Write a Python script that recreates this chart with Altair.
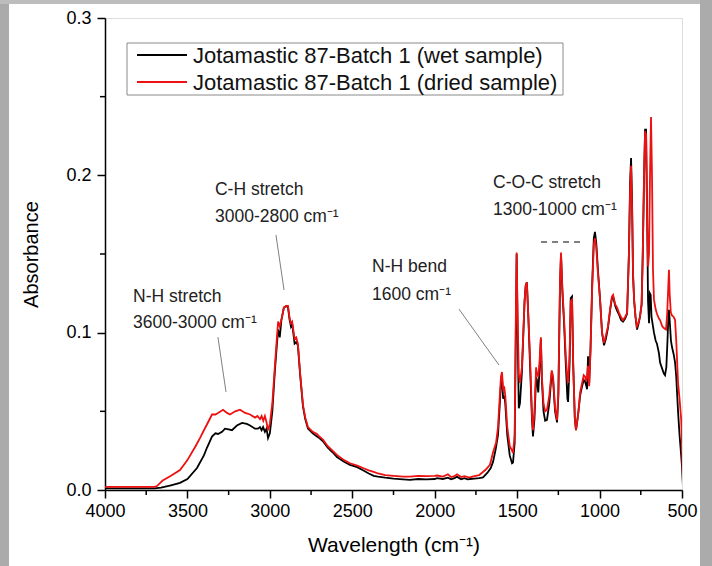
import altair as alt
import pandas as pd

# ---------------- data ----------------
WET_LABEL = "Jotamastic 87-Batch 1 (wet sample)"
DRY_LABEL = "Jotamastic 87-Batch 1 (dried sample)"
series_labels = [WET_LABEL, DRY_LABEL]
series_colors = ["#000000", "#ee1111"]

wn_wet = [4000, 3800, 3700, 3660, 3600, 3545, 3500, 3442, 3400, 3381, 3351, 3330, 3314, 3290,
          3272, 3250, 3230, 3200, 3169, 3140, 3120, 3090, 3072, 3060, 3050, 3041, 3030, 3020,
          3011, 3000, 2985, 2970, 2957, 2950, 2940, 2930, 2915, 2900, 2890, 2880, 2872, 2865,
          2858, 2850, 2840, 2830, 2817, 2799, 2785, 2769, 2740, 2714, 2700, 2678, 2650, 2620,
          2593, 2550, 2514, 2470, 2435, 2400, 2370, 2344, 2300, 2250, 2192, 2150, 2100, 2050,
          2000, 1986, 1950, 1920, 1900, 1880, 1865, 1840, 1820, 1800, 1786, 1760, 1730, 1707,
          1680, 1660, 1646, 1630, 1616, 1605, 1598, 1592, 1585, 1578, 1572, 1560, 1545, 1531,
          1525, 1515, 1508, 1503, 1497, 1490, 1483, 1471, 1455, 1448, 1441, 1432, 1422, 1410,
          1404, 1395, 1385, 1380, 1372, 1365, 1356, 1350, 1340, 1330, 1319, 1305, 1290, 1282,
          1270, 1258, 1250, 1240, 1234, 1225, 1215, 1205, 1195, 1191, 1182, 1175, 1167, 1160,
          1150, 1143, 1130, 1118, 1106, 1096, 1088, 1080, 1076, 1070, 1063, 1055, 1045, 1035,
          1028, 1020, 1010, 997, 985, 973, 962, 949, 935, 925, 918, 905, 894, 880, 870, 858,
          845, 833, 822, 815, 809, 803, 797, 790, 782, 773, 765, 755, 745, 738, 730, 724, 718,
          712, 706, 700, 695, 690, 685, 670, 660, 652, 640, 633, 620, 610, 603, 595, 588, 582,
          579, 573, 567, 561, 550, 542, 535, 524, 515, 505, 500, 494]
abs_wet = [0.001, 0.001, 0.001, 0.0015, 0.003, 0.0045, 0.007, 0.014, 0.022, 0.027, 0.034, 0.036,
           0.0356, 0.037, 0.039, 0.0385, 0.038, 0.041, 0.0426, 0.042, 0.041, 0.039, 0.039, 0.040,
           0.038, 0.040, 0.037, 0.039, 0.033, 0.036, 0.050, 0.075, 0.093, 0.102, 0.097, 0.108,
           0.116, 0.117, 0.116, 0.108, 0.104, 0.106, 0.100, 0.093, 0.094, 0.092, 0.074, 0.053,
           0.045, 0.039, 0.036, 0.034, 0.033, 0.031, 0.027, 0.024, 0.021, 0.018, 0.016, 0.0145,
           0.0125, 0.0105, 0.009, 0.0085, 0.0078, 0.0072, 0.0068, 0.0065, 0.007, 0.0068, 0.007,
           0.0075, 0.007, 0.0078, 0.0068, 0.0075, 0.0085, 0.0068, 0.0075, 0.0068, 0.007, 0.0072,
           0.0075, 0.008, 0.011, 0.014, 0.018, 0.026, 0.035, 0.055, 0.068, 0.072, 0.058, 0.060,
           0.055, 0.035, 0.022, 0.017, 0.0175, 0.030, 0.100, 0.150, 0.100, 0.052, 0.055, 0.075,
           0.120, 0.130, 0.132, 0.110, 0.080, 0.045, 0.034, 0.045, 0.072, 0.070, 0.062, 0.075,
           0.096, 0.070, 0.050, 0.044, 0.0445, 0.055, 0.075, 0.070, 0.050, 0.043, 0.060, 0.130,
           0.150, 0.125, 0.105, 0.080, 0.058, 0.056, 0.080, 0.122, 0.123, 0.080, 0.045, 0.038,
           0.048, 0.060, 0.066, 0.070, 0.069, 0.066, 0.064, 0.085, 0.068, 0.090, 0.130, 0.160,
           0.164, 0.157, 0.140, 0.121, 0.100, 0.092, 0.096, 0.103, 0.115, 0.122, 0.123, 0.117,
           0.114, 0.111, 0.108, 0.107, 0.109, 0.112, 0.150, 0.195, 0.211, 0.185, 0.136, 0.120,
           0.110, 0.102, 0.105, 0.110, 0.118, 0.150, 0.200, 0.229, 0.229, 0.180, 0.120, 0.106,
           0.125, 0.124, 0.110, 0.100, 0.095, 0.093, 0.087, 0.081, 0.077, 0.074, 0.073, 0.078,
           0.095, 0.112, 0.1145, 0.105, 0.095, 0.091, 0.086, 0.081, 0.072, 0.050, 0.035, 0.022,
           0.015, 0.002]

wn_dry = [4000, 3800, 3700, 3685, 3650, 3600, 3545, 3500, 3450, 3424, 3400, 3370, 3351, 3330,
          3314, 3284, 3260, 3242, 3210, 3181, 3150, 3120, 3090, 3075, 3060, 3050, 3040, 3030,
          3020, 3011, 3000, 2985, 2970, 2957, 2950, 2940, 2926, 2915, 2900, 2890, 2880, 2872,
          2865, 2858, 2850, 2840, 2830, 2817, 2799, 2785, 2769, 2740, 2714, 2700, 2678, 2650,
          2620, 2593, 2550, 2514, 2470, 2435, 2400, 2370, 2344, 2300, 2250, 2192, 2150, 2100,
          2050, 2000, 1986, 1950, 1920, 1900, 1880, 1865, 1840, 1820, 1800, 1786, 1760, 1730,
          1713, 1690, 1665, 1646, 1628, 1616, 1605, 1598, 1592, 1585, 1578, 1572, 1560, 1545,
          1531, 1525, 1515, 1508, 1503, 1497, 1490, 1483, 1471, 1455, 1448, 1441, 1432, 1422,
          1410, 1404, 1395, 1385, 1380, 1372, 1365, 1356, 1350, 1340, 1330, 1319, 1305, 1290,
          1282, 1270, 1258, 1250, 1240, 1234, 1225, 1215, 1205, 1195, 1191, 1182, 1175, 1167,
          1160, 1150, 1143, 1130, 1118, 1106, 1096, 1088, 1080, 1076, 1070, 1063, 1055, 1045,
          1035, 1028, 1020, 1010, 997, 985, 973, 962, 949, 935, 925, 918, 905, 894, 880, 870,
          858, 845, 833, 822, 815, 809, 803, 797, 790, 782, 773, 765, 755, 745, 738, 730, 724,
          718, 712, 706, 700, 694, 688, 682, 676, 670, 660, 652, 640, 633, 620, 610, 597, 590,
          583, 579, 575, 568, 561, 550, 542, 535, 524, 515, 505, 500, 494]
abs_dry = [0.002, 0.002, 0.002, 0.0025, 0.006, 0.009, 0.0127, 0.019, 0.028, 0.033, 0.038, 0.044,
           0.048, 0.048, 0.049, 0.051, 0.049, 0.048, 0.050, 0.051, 0.049, 0.048, 0.046, 0.047,
           0.045, 0.047, 0.044, 0.047, 0.043, 0.038, 0.042, 0.055, 0.078, 0.097, 0.107, 0.104,
           0.110, 0.116, 0.117, 0.117, 0.109, 0.106, 0.107, 0.102, 0.096, 0.097, 0.093, 0.075,
           0.054, 0.046, 0.040, 0.037, 0.0356, 0.034, 0.032, 0.028, 0.025, 0.0223, 0.019, 0.017,
           0.0155, 0.014, 0.0125, 0.0115, 0.0105, 0.0095, 0.009, 0.0085, 0.0085, 0.009, 0.0088,
           0.009, 0.0092, 0.0085, 0.010, 0.0082, 0.0088, 0.010, 0.0082, 0.0088, 0.0082, 0.008,
           0.0088, 0.0095, 0.011, 0.013, 0.016, 0.024, 0.030, 0.040, 0.060, 0.072, 0.075, 0.064,
           0.065, 0.060, 0.040, 0.028, 0.025, 0.0235, 0.035, 0.110, 0.151, 0.110, 0.074, 0.068,
           0.078, 0.120, 0.130, 0.132, 0.110, 0.085, 0.048, 0.038, 0.050, 0.078, 0.074, 0.072,
           0.080, 0.097, 0.072, 0.055, 0.050, 0.051, 0.060, 0.076, 0.072, 0.052, 0.0445, 0.062,
           0.132, 0.151, 0.127, 0.108, 0.085, 0.070, 0.068, 0.085, 0.120, 0.121, 0.080, 0.045,
           0.038, 0.048, 0.062, 0.068, 0.073, 0.072, 0.069, 0.072, 0.079, 0.066, 0.088, 0.128,
           0.156, 0.160, 0.154, 0.138, 0.121, 0.100, 0.0935, 0.098, 0.104, 0.116, 0.123, 0.124,
           0.118, 0.116, 0.112, 0.110, 0.108, 0.110, 0.1125, 0.150, 0.190, 0.206, 0.180, 0.138,
           0.120, 0.110, 0.104, 0.106, 0.110, 0.118, 0.150, 0.200, 0.228, 0.226, 0.175, 0.142,
           0.150, 0.200, 0.237, 0.200, 0.140, 0.121, 0.115, 0.112, 0.109, 0.108, 0.104, 0.103,
           0.102, 0.112, 0.130, 0.140, 0.125, 0.113, 0.111, 0.110, 0.108, 0.095, 0.068, 0.058,
           0.045, 0.030, 0.002]

x_major = [4000, 3500, 3000, 2500, 2000, 1500, 1000, 500]
x_minor = [3750, 3250, 2750, 2250, 1750, 1250, 750]
y_major = [0.0, 0.1, 0.2, 0.3]
y_minor = [0.05, 0.15, 0.25]

ann_wn = [3830, 3830, 3333, 3333, 2380, 2380, 1646, 1646]
ann_abs = [0.1227, 0.1061, 0.1907, 0.1735, 0.1417, 0.1239, 0.1951, 0.1780]
ann_text = ["N-H stretch", "3600-3000 cm⁻¹", "C-H stretch", "3000-2800 cm⁻¹",
            "N-H bend", "1600 cm⁻¹", "C-O-C stretch", "1300-1000 cm⁻¹"]

lead_wn = [3315, 2963, 1853]
lead_abs = [0.0972, 0.1621, 0.1150]
lead_wn2 = [3266, 2914, 1610]
lead_abs2 = [0.0623, 0.1271, 0.0794]

dash_wn, dash_wn2, dash_abs = [1355], [1119], [0.1576]

# ---------------- frames ----------------
spec = pd.concat([
    pd.DataFrame({"wn": wn_wet, "v": abs_wet, "series": WET_LABEL}),
    pd.DataFrame({"wn": wn_dry, "v": abs_dry, "series": DRY_LABEL}),
])
ann = pd.DataFrame({"wn": ann_wn, "v": ann_abs, "t": ann_text})
lead = pd.DataFrame({"wn": lead_wn, "v": lead_abs, "wn2": lead_wn2, "v2": lead_abs2})
dash = pd.DataFrame({"wn": dash_wn, "v": dash_abs, "wn2": dash_wn2, "v2": dash_abs})

FONT = "Liberation Sans"
W, H = 577, 472

x_axis = alt.Axis(
    orient="bottom", values=x_major, format="d", ticks=True, tickSize=8,
    tickColor="black", tickWidth=1.5,
    labelFontSize=18, labelFont=FONT, labelColor="black", labelPadding=4, labelFlush=False,
    title="Wavelength (cm⁻¹)", titleFont=FONT, titleFontSize=21, titleFontWeight="normal",
    titleColor="black", titlePadding=14,
    domainColor="black", domainWidth=1.5, grid=False,
)
y_axis = alt.Axis(
    orient="left", values=y_major, format=".1f", ticks=True, tickSize=8,
    tickColor="black", tickWidth=1.5,
    labelFontSize=18, labelFont=FONT, labelColor="black", labelPadding=6, labelFlush=False,
    title="Absorbance", titleFont=FONT, titleFontSize=20, titleFontWeight="normal",
    titleColor="black", titlePadding=24,
    domainColor="black", domainWidth=1.5, grid=False,
)

xs = alt.Scale(domain=[500, 4000], reverse=True, nice=False, zero=False)
ys = alt.Scale(domain=[0, 0.3], nice=False)

X = alt.X("wn:Q", scale=xs, axis=x_axis)
Y = alt.Y("v:Q", scale=ys, axis=y_axis)

color = alt.Color("series:N", scale=alt.Scale(domain=series_labels, range=series_colors),
                  legend=None)

base = alt.Chart(spec)
wet = base.transform_filter(alt.datum.series == WET_LABEL).mark_line(
    strokeWidth=1.8, clip=True).encode(x=X, y=Y, color=color, order="wn:Q")
dry = base.transform_filter(alt.datum.series == DRY_LABEL).mark_line(
    strokeWidth=1.8, clip=True).encode(x=X, y=Y, color=color, order="wn:Q")

# minor tick marks drawn through the scales (outward from the frame)
tick_layers = [
    alt.Chart(pd.DataFrame({"wn": x_minor})).mark_rule(color="black", strokeWidth=1.5).encode(
        x=X, y=alt.value(H), y2=alt.value(H + 5)),
    alt.Chart(pd.DataFrame({"v": y_minor})).mark_rule(color="black", strokeWidth=1.5).encode(
        y=Y, x=alt.value(0), x2=alt.value(-5)),
]

texts = alt.Chart(ann).mark_text(
    align="left", baseline="middle", font=FONT, fontSize=17.5, color="#222222"
).encode(x=X, y=Y, text="t:N")

leaders = alt.Chart(lead).mark_rule(color="#808080", strokeWidth=1).encode(
    x=X, y=Y, x2="wn2:Q", y2="v2:Q")
dashes = alt.Chart(dash).mark_rule(color="#555555", strokeWidth=1.5, strokeDash=[6, 5]).encode(
    x=X, y=Y, x2="wn2:Q", y2="v2:Q")

one = pd.DataFrame({"k": [0]})

# legend box (inside the plot, top-left)
legend_layers = [
    alt.Chart(one).mark_rect(fill="white", stroke="#8a8a8a", strokeWidth=1).encode(
        x=alt.value(22), x2=alt.value(458), y=alt.value(25), y2=alt.value(77))
]
for i, (lab, col) in enumerate(zip(series_labels, series_colors)):
    yy = 37 + 27 * i
    legend_layers.append(alt.Chart(one).mark_rule(color=col, strokeWidth=2).encode(
        x=alt.value(32), x2=alt.value(82), y=alt.value(yy)))
    legend_layers.append(alt.Chart(one).mark_text(
        text=lab, align="left", baseline="middle", font=FONT, fontSize=22, color="#111111"
    ).encode(x=alt.value(88), y=alt.value(yy + 1)))

# decorative picture-frame edge of the reference image
frame_layers = [
    alt.Chart(one).mark_rect(color="#ababab").encode(
        x=alt.value(-105), x2=alt.value(-96), y=alt.value(-18), y2=alt.value(548)),
    alt.Chart(one).mark_rect(color="#bdbdbd").encode(
        x=alt.value(-105), x2=alt.value(607), y=alt.value(-18), y2=alt.value(-14)),
    alt.Chart(one).mark_rect(color="#ababab").encode(
        x=alt.value(595), x2=alt.value(607), y=alt.value(-18), y2=alt.value(548)),
]

chart = alt.layer(
    *frame_layers, wet, dry, *tick_layers, leaders, dashes, texts, *legend_layers
).properties(
    width=W, height=H,
    autosize=alt.AutoSizeParams(type="none"),
    padding={"left": 105, "top": 18, "right": 30, "bottom": 76},
).configure_view(
    stroke="black", strokeWidth=1.5
).configure(background="white")

chart.save("out.html", embed_options={"renderer": "svg", "actions": False})
